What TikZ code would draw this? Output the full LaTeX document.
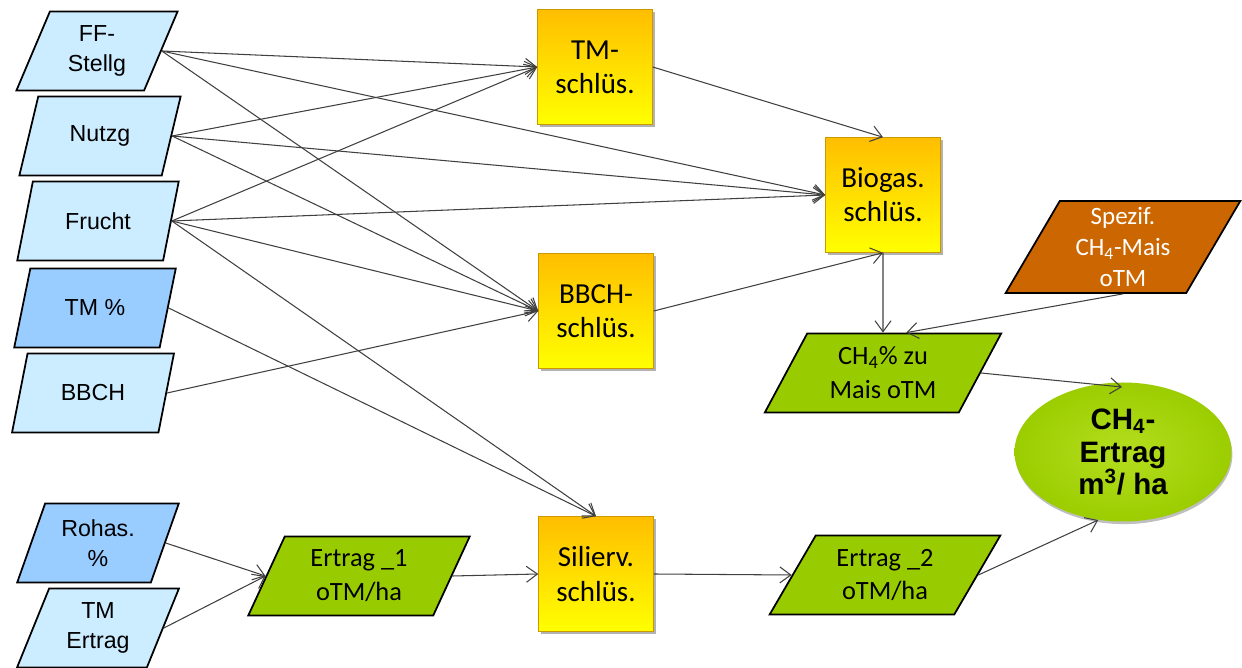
\documentclass[tikz,border=0pt]{standalone}
\usepackage{fontspec}
\setmainfont{Carlito}
\newfontfamily\arialfont{Liberation Sans}
\usetikzlibrary{arrows.meta,shapes.geometric,shadows}
\definecolor{inblau}{RGB}{204,236,255}
\definecolor{inblaudunkel}{RGB}{153,204,255}
\definecolor{ergruen}{RGB}{153,204,0}
\definecolor{ellgruen}{RGB}{180,222,30}
\definecolor{ellgruendk}{RGB}{155,205,0}
\definecolor{spezbraun}{RGB}{204,102,0}
\definecolor{schlgelb}{RGB}{255,255,0}
\definecolor{schlorange}{RGB}{255,190,0}
\definecolor{pfeilgrau}{RGB}{64,64,64}
\begin{document}
\begin{tikzpicture}[
        >={Straight Barb[length=2.2mm,width=3.2mm]},
        para/.style={trapezium, trapezium stretches=true, trapezium left angle=68, trapezium right angle=112, draw=black, line width=1pt, minimum width=3.24cm, minimum height=1.58cm, align=center, inner sep=1pt},
        eingabe/.style={para, fill=inblau, font=\arialfont\fontsize{13.2}{17}\selectfont},
        eingabedk/.style={para, fill=inblaudunkel, font=\arialfont\fontsize{13.2}{17}\selectfont},
        schluessel/.style={rectangle, minimum width=2.3cm, minimum height=2.3cm, top color=schlorange, bottom color=schlgelb, draw=schlorange!80!black, line width=0.3pt, align=center, font=\fontsize{16.5}{19.5}\selectfont, drop shadow={shadow xshift=1.5pt, shadow yshift=-1.5pt, fill=black, opacity=0.3}},
        ergebnis/.style={para, fill=ergruen, font=\fontsize{15}{19.3}\selectfont},
        pfeil/.style={->, draw=pfeilgrau, line width=0.6pt}
    ]
        \useasboundingbox (0,0) rectangle (24.84,13.36);
        \node[eingabe] (ff) at (1.94,12.34) {FF-\\Stellg};
        \node[eingabe] (nutzg) at (2.00,10.64) {Nutzg};
        \node[eingabe] (frucht) at (1.96,8.94) {Frucht};
        \node[eingabedk] (tmproz) at (1.90,7.20) {TM \%};
        \node[eingabe] (bbch) at (1.86,5.50) {BBCH};
        \node[eingabedk] (rohas) at (1.96,2.50) {Rohas.\\\%};
        \node[eingabe] (tmertrag) at (1.96,0.80) {TM\\Ertrag};
        \node[ergebnis, minimum width=4.44cm, trapezium left angle=66, trapezium right angle=114] (ertrag1) at (7.18,1.84) {Ertrag \_1\\oTM/ha};
        \node[schluessel] (tmschl) at (11.90,12.02) {TM-\\schlüs.};
        \node[schluessel] (bbchschl) at (11.92,7.14) {BBCH-\\schlüs.};
        \node[schluessel] (silschl) at (11.92,1.88) {Silierv.\\schlüs.};
        \node[schluessel] (bioschl) at (17.66,9.46) {Biogas.\\schlüs.};
        \node[para, fill=spezbraun, text=white, minimum width=4.7cm, minimum height=1.84cm, trapezium left angle=63, trapezium right angle=117, font=\fontsize{14.2}{17.6}\selectfont] (spezif) at (22.46,8.42) {Spezif.\\CH\textsubscript{4}-Mais\\oTM};
        \node[ergebnis, minimum width=4.74cm, trapezium left angle=61, trapezium right angle=119] (ch4proz) at (17.66,5.90) {CH\textsubscript{4}\% zu\\Mais oTM};
        \node[ergebnis, minimum width=4.66cm, trapezium left angle=59, trapezium right angle=121] (ertrag2) at (17.70,1.86) {Ertrag \_2\\oTM/ha};
        \node[ellipse, minimum width=4.34cm, minimum height=2.3cm, inner color=ellgruen, outer color=ellgruendk, align=center, font=\arialfont\bfseries\fontsize{16.8}{18.6}\selectfont, drop shadow={shadow xshift=0.5pt, shadow yshift=-1.5pt, fill=black, opacity=0.25}] (ch4ertrag) at (22.46,4.32) {CH\textsubscript{4}-\\Ertrag\\m\textsuperscript{3}/ ha};
        \coordinate (ch4ziel) at (22.44,5.62);
        \draw[pfeil] (ff.east) -- (tmschl.west);
        \draw[pfeil] (ff.east) -- (bioschl.west);
        \draw[pfeil] (ff.east) -- (bbchschl.west);
        \draw[pfeil] (nutzg.east) -- (tmschl.west);
        \draw[pfeil] (nutzg.east) -- (bioschl.west);
        \draw[pfeil] (nutzg.east) -- (bbchschl.west);
        \draw[pfeil] (frucht.east) -- (tmschl.west);
        \draw[pfeil] (frucht.east) -- (bioschl.west);
        \draw[pfeil] (frucht.east) -- (bbchschl.west);
        \draw[pfeil] (frucht.east) -- (silschl.north);
        \draw[pfeil] (tmproz.east) -- (silschl.north);
        \draw[pfeil] (bbch.east) -- (bbchschl.west);
        \draw[pfeil] (rohas.east) -- (ertrag1.west);
        \draw[pfeil] (tmertrag.east) -- (ertrag1.west);
        \draw[pfeil] (ertrag1.east) -- (silschl.west);
        \draw[pfeil] (silschl.east) -- (ertrag2.west);
        \draw[pfeil] (tmschl.east) -- (bioschl.north);
        \draw[pfeil] (bbchschl.east) -- (bioschl.south);
        \draw[pfeil] (bioschl.south) -- (ch4proz.north);
        \draw[pfeil] (spezif.south) -- (ch4proz.60);
        \draw[pfeil] (ch4proz.east) -- (ch4ziel);
        \draw[pfeil] (ertrag2.east) -- (ch4ertrag.250);
    \end{tikzpicture}
\end{document}
